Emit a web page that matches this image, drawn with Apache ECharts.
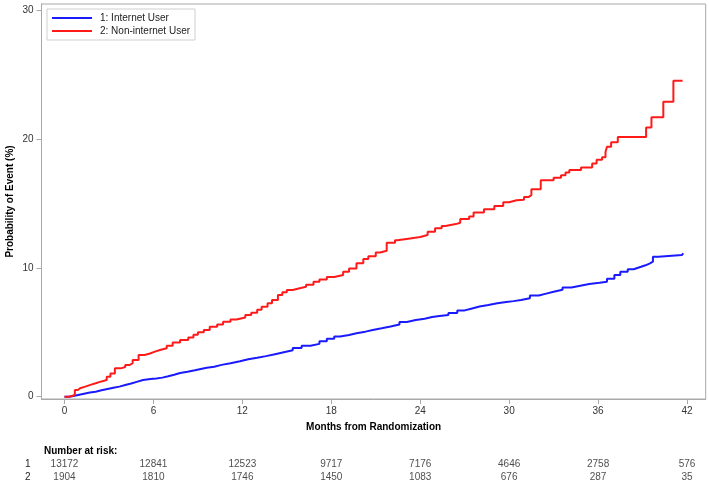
<!DOCTYPE html>
<html>
<head>
<meta charset="utf-8">
<script src="https://cdn.jsdelivr.net/npm/echarts@6/dist/echarts.min.js"></script>
<style>
html,body{margin:0;padding:0;background:#fff;}
#chart{width:709px;height:487px;}
</style>
</head>
<body>
<div id="chart"></div>
<script>
// ---- Data ----
const seriesNames = ['1: Internet User', '2: Non-internet User'];
const xTicks = [0, 6, 12, 18, 24, 30, 36, 42];
const yTicks = [0, 10, 20, 30];

// Group 1: Internet User (time in months, cumulative probability %)
const internetTimes = [0, 0.3, 0.6, 1.0, 1.4, 1.72, 2.1, 2.5, 2.9, 3.3, 3.7, 4.1, 4.5, 4.87, 5.3, 5.8, 6.2, 6.6, 7.0, 7.4, 7.8, 8.3, 8.8, 9.2, 9.6, 10.1, 10.6, 11.2, 11.84, 12.4, 13.0, 13.6, 14.2, 14.8, 15.4, 16.0, 16.6, 17.2, 17.7, 18.2, 18.6, 19.2, 19.7, 20.3, 20.8, 21.4, 22.0, 22.6, 23.1, 23.7, 24.3, 24.8, 25.3, 25.9, 26.5, 27.0, 27.5, 28.0, 28.6, 29.2, 29.8, 30.3, 30.8, 31.4, 32.0, 32.5, 33.0, 33.6, 34.2, 34.8, 35.4, 36.1, 36.6, 37.1, 37.5, 38.0, 38.4, 38.8, 39.2, 39.5, 39.7, 40.07, 41.65, 41.75];
const internetValues = [0, 0.05, 0.15, 0.25, 0.32, 0.39, 0.5, 0.6, 0.7, 0.78, 0.9, 1.02, 1.15, 1.3, 1.38, 1.42, 1.48, 1.58, 1.7, 1.84, 1.94, 2.05, 2.15, 2.25, 2.33, 2.47, 2.6, 2.75, 2.9, 3.02, 3.15, 3.3, 3.45, 3.6, 3.78, 3.95, 4.1, 4.3, 4.5, 4.68, 4.79, 4.92, 5.05, 5.18, 5.31, 5.45, 5.6, 5.8, 5.95, 6.05, 6.18, 6.26, 6.34, 6.5, 6.7, 6.85, 7.0, 7.12, 7.25, 7.35, 7.42, 7.5, 7.65, 7.85, 8.0, 8.15, 8.3, 8.48, 8.62, 8.75, 8.85, 8.93, 9.15, 9.45, 9.7, 9.9, 10.05, 10.2, 10.35, 10.48, 10.87, 11.0, 11.13, 11.13];

// Group 2: Non-internet User
const nonInternetTimes = [0, 0.3, 0.5, 0.7, 0.9, 1.05, 1.4, 1.7, 2.1, 2.4, 2.85, 3.1, 3.4, 3.8, 4.1, 4.4, 4.6, 5.0, 5.4, 5.77, 6.1, 6.44, 6.9, 7.3, 7.8, 8.35, 8.7, 9.0, 9.4, 9.8, 10.3, 10.7, 11.2, 11.6, 12.2, 12.6, 13.0, 13.3, 13.7, 14.0, 14.4, 14.7, 15.0, 15.4, 15.8, 16.3, 16.8, 17.2, 17.7, 18.2, 18.8, 19.2, 19.7, 20.16, 20.5, 21.0, 21.3, 21.74, 22.3, 22.45, 23.2, 24.0, 24.5, 25.0, 25.45, 25.7, 26.4, 26.7, 27.3, 27.6, 28.3, 29.0, 29.6, 30.0, 30.5, 31.0, 31.3, 31.5, 32.13, 33.0, 33.5, 33.8, 34.06, 34.85, 35.6, 35.9, 36.27, 36.5, 36.6, 36.88, 37.33, 39.24, 39.6, 40.4, 41.08, 41.7];
const nonInternetValues = [0, 0.05, 0.13, 0.52, 0.65, 0.78, 0.9, 1.04, 1.15, 1.3, 1.55, 1.8, 2.2, 2.3, 2.46, 2.6, 2.85, 3.24, 3.35, 3.5, 3.62, 3.76, 3.95, 4.2, 4.4, 4.6, 4.8, 5.0, 5.18, 5.43, 5.6, 5.82, 6.0, 6.15, 6.35, 6.52, 6.75, 6.99, 7.25, 7.5, 7.9, 8.1, 8.28, 8.4, 8.54, 8.7, 8.93, 9.1, 9.3, 9.45, 9.7, 9.95, 10.36, 10.7, 10.9, 11.2, 11.33, 11.95, 12.15, 12.27, 12.4, 12.55, 12.8, 13.07, 13.25, 13.4, 13.5, 13.8, 14.0, 14.3, 14.55, 14.8, 15.1, 15.25, 15.3, 15.5, 15.65, 16.1, 16.8, 17.0, 17.2, 17.4, 17.6, 17.8, 18.1, 18.4, 18.6, 19.0, 19.4, 19.75, 20.16, 20.9, 21.7, 22.9, 24.53, 24.53];

// Number at risk
const riskTimes = [0, 6, 12, 18, 24, 30, 36, 42];
const riskGroupLabels = ['1', '2'];
const riskGroup1 = [13172, 12841, 12523, 9717, 7176, 4646, 2758, 576];
const riskGroup2 = [1904, 1810, 1746, 1450, 1083, 676, 287, 35];

// ---- Build ----
const FONT = '"Liberation Sans", Arial, sans-serif';
const AXIS_COLOR = '#a8a8a8';
const pairs = (t, v) => t.map((x, i) => [x, v[i]]);
const riskData = [];
riskTimes.forEach((t, i) => {
  riskData.push([t, riskGroupLabels[0], riskGroup1[i]]);
  riskData.push([t, riskGroupLabels[1], riskGroup2[i]]);
});

const chart = echarts.init(document.getElementById('chart'), null, {renderer: 'canvas'});
chart.setOption({
  animation: false,
  backgroundColor: '#fff',
  textStyle: {fontFamily: FONT},
  title: {
    text: 'Number at risk:',
    left: 44, top: 446, padding: 0,
    textStyle: {fontSize: 10, fontWeight: 'bold', color: '#000', fontFamily: FONT}
  },
  legend: {
    data: seriesNames,
    orient: 'vertical',
    left: 47, top: 9,
    padding: [3, 5, 3, 5],
    itemGap: 1,
    itemWidth: 40, itemHeight: 2,
    icon: 'rect',
    borderColor: '#cfcfcf', borderWidth: 1,
    textStyle: {fontSize: 10, color: '#222', fontFamily: FONT, padding: [0, 0, 0, 3], lineHeight: 12}
  },
  grid: [
    {left: 41.5, right: 3.3, top: 4, bottom: 88, show: true, borderColor: AXIS_COLOR, borderWidth: 1,
     containLabel: false, outerBoundsMode: 'none'},
    {left: 41.5, right: 3.3, top: 457, height: 27, show: false, containLabel: false, outerBoundsMode: 'none'}
  ],
  xAxis: [
    {
      type: 'value', gridIndex: 0, min: -1.55, max: 43.26,
      name: 'Months from Randomization', nameLocation: 'middle', nameGap: 23, nameMoveOverlap: false,
      nameTextStyle: {fontSize: 10, fontWeight: 'bold', color: '#000', fontFamily: FONT},
      axisLine: {show: true, onZero: false, lineStyle: {color: AXIS_COLOR}},
      axisTick: {show: true, length: 5, lineStyle: {color: AXIS_COLOR}, customValues: xTicks},
      axisLabel: {fontSize: 10, color: '#333', margin: 7, customValues: xTicks, fontFamily: FONT},
      splitLine: {show: false}
    },
    {
      type: 'value', gridIndex: 1, min: -1.55, max: 43.26, show: false
    }
  ],
  yAxis: [
    {
      type: 'value', gridIndex: 0, min: -0.18, max: 30.49,
      name: 'Probability of Event (%)', nameLocation: 'middle', nameGap: 26.5, nameMoveOverlap: false,
      nameTextStyle: {fontSize: 10, fontWeight: 'bold', color: '#000', fontFamily: FONT},
      axisLine: {show: true, onZero: false, lineStyle: {color: AXIS_COLOR}},
      axisTick: {show: true, length: 5, lineStyle: {color: AXIS_COLOR}, customValues: yTicks},
      axisLabel: {fontSize: 10, color: '#333', margin: 8, customValues: yTicks, fontFamily: FONT},
      splitLine: {show: false}
    },
    {
      type: 'category', gridIndex: 1, data: riskGroupLabels, inverse: true,
      axisLine: {show: false}, axisTick: {show: false}, splitLine: {show: false},
      axisLabel: {fontSize: 10, color: '#222', margin: 11, fontFamily: FONT}
    }
  ],
  series: [
    {
      name: seriesNames[0], type: 'line', xAxisIndex: 0, yAxisIndex: 0,
      step: 'end', showSymbol: false, symbol: 'none',
      data: pairs(internetTimes, internetValues),
      itemStyle: {color: '#1a1aff'},
      lineStyle: {color: '#1a1aff', width: 2}
    },
    {
      name: seriesNames[1], type: 'line', xAxisIndex: 0, yAxisIndex: 0,
      step: 'end', showSymbol: false, symbol: 'none',
      data: pairs(nonInternetTimes, nonInternetValues),
      itemStyle: {color: '#ff1a1a'},
      lineStyle: {color: '#ff1a1a', width: 2}
    },
    {
      name: 'risk', type: 'scatter', xAxisIndex: 1, yAxisIndex: 1,
      symbolSize: 1, itemStyle: {color: 'rgba(0,0,0,0)'},
      data: riskData,
      label: {
        show: true, position: 'inside', fontSize: 10, color: '#222', fontFamily: FONT,
        formatter: p => String(p.value[2])
      },
      silent: true
    }
  ]
});
</script>
</body>
</html>
